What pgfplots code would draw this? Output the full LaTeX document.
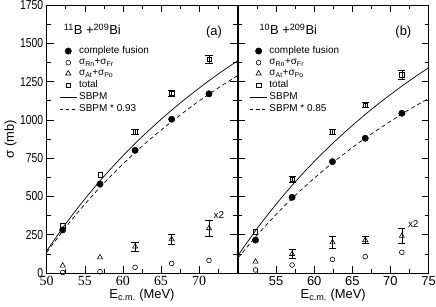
\documentclass[border=0pt]{standalone}
\usepackage{fontspec}
\setmainfont{Liberation Sans}
\newfontfamily\seriffont{Liberation Serif}
\usepackage{graphicx}
\usepackage{pgfplots}
\pgfplotsset{compat=1.18}

\pgfplotsset{
 panel/.style={
  scale only axis, width=190.5bp, height=268bp,
  xmin=50, xmax=75, ymin=0, ymax=1750,
  ytick={0,250,...,1750},
  minor xtick={52.5,57.5,...,72.5},
  minor ytick={125,375,...,1625},
  tick align=inside,
  major tick length=7bp, minor tick length=4bp,
  xtick pos=both, ytick pos=both,
  axis line style={line width=0.7pt},
  every tick/.style={black, line width=0.6pt},
  /pgf/number format/assume math mode=true,
  /pgf/number format/1000 sep={},
  tick label style={font=\fontsize{13}{15}\selectfont},
  xlabel={E\textsubscript{c.m.} (MeV)},
  xlabel style={font=\fontsize{13}{15}\selectfont, at={(axis description cs:0.5,0)}, anchor=center, yshift=-22bp},
  legend style={draw=none, fill=none, font=\fontsize{10}{11}\selectfont, anchor=north west, row sep=-0.4pt, cells={anchor=west}},
  legend cell align=left,
 },
 fus/.style={only marks, mark=*, mark size=3.2bp, black},
 rnfr/.style={only marks, mark=o, mark size=2.4bp, black, mark options={line width=0.6pt}},
 atpo/.style={only marks, mark=triangle, mark size=3bp, black, mark options={line width=0.6pt}},
 tot/.style={only marks, mark=square, mark size=2.2bp, black, mark options={line width=0.6pt}},
 eb/.style={/pgfplots/error bars/y dir=both, /pgfplots/error bars/y explicit,
   /pgfplots/error bars/error mark options={rotate=90, mark size=3.6bp, line width=0.6pt},
   /pgfplots/error bars/error bar style={line width=0.6pt}},
}

\begin{document}
\begin{tikzpicture}
% ---------- left panel ----------
\begin{axis}[panel, at={(46.7bp,34bp)}, anchor=south west,
  xtick={50,55,...,70},
  xticklabel={{\seriffont\fontsize{14}{16}\selectfont\pgfmathprintnumber{\tick}}},
  yticklabel={\scalebox{0.8}[1]{\pgfmathprintnumber{\tick}}},
  ylabel={σ (mb)},
  ylabel style={font=\fontsize{13}{15}\selectfont, at={(axis description cs:-0.19,0.5)}, anchor=center},
  legend style={at={(0.05,0.86)}},
]
\addlegendimage{fus}\addlegendentry{complete fusion}
\addlegendimage{rnfr}\addlegendentry{σ\textsubscript{Rn}+σ\textsubscript{Fr}}
\addlegendimage{atpo}\addlegendentry{σ\textsubscript{At}+σ\textsubscript{Po}}
\addlegendimage{tot}\addlegendentry{total}
\addlegendimage{black, line width=0.7pt}\addlegendentry{SBPM}
\addlegendimage{black, line width=0.7pt, dashed}\addlegendentry{SBPM * 0.93}

% SBPM
\addplot[black, line width=0.7pt, smooth, forget plot] coordinates {
(50,145) (52.5,322) (55,483) (57.5,630) (60,765) (62.5,889) (65,1003) (67.5,1109) (70,1207) (72.5,1299) (75,1384)};
\addplot[black, line width=0.7pt, dash pattern=on 4pt off 3pt, smooth, forget plot] coordinates {
(50,135) (52.5,299) (55,449) (57.5,586) (60,711) (62.5,827) (65,933) (67.5,1031) (70,1123) (72.5,1208) (75,1287)};
% complete fusion
\addplot[fus, forget plot] coordinates {(52.1,281) (57.0,581) (61.6,801) (66.4,1004) (71.3,1170)};
% Rn+Fr
\addplot[rnfr, forget plot] coordinates {(52.1,3) (57.0,8) (61.6,37) (66.4,63) (71.3,82)};
% At+Po (x2)
\addplot[atpo, forget plot] coordinates {(52.1,48) (57.0,102)};
\addplot[atpo, forget plot, eb] coordinates {(61.6,172) +- (0,28) (66.4,220) +- (0,30) (71.3,292) +- (0,55)};
% total
\addplot[tot, forget plot] coordinates {(52.1,307) (57.0,640)};
\addplot[tot, forget plot, eb] coordinates {(61.6,923) +- (0,18) (66.4,1173) +- (0,18) (71.3,1395) +- (0,28)};

\node[font=\fontsize{13}{15}\selectfont] at (axis cs:56.0,1593) {\textsuperscript{11}B +\textsuperscript{209}Bi};
\node[font=\fontsize{13}{15}\selectfont] at (axis cs:71.95,1574) {(a)};
\node[font=\fontsize{10}{12}\selectfont] at (axis cs:72.6,379) {x2};
\end{axis}

% ---------- right panel ----------
\begin{axis}[panel, at={(238bp,34bp)}, anchor=south west,
  xtick={55,60,...,75},
  yticklabels={},
  legend style={at={(0.045,0.86)}},
]
\addlegendimage{fus}\addlegendentry{complete fusion}
\addlegendimage{rnfr}\addlegendentry{σ\textsubscript{Rn}+σ\textsubscript{Fr}}
\addlegendimage{atpo}\addlegendentry{σ\textsubscript{At}+σ\textsubscript{Po}}
\addlegendimage{tot}\addlegendentry{total}
\addlegendimage{black, line width=0.7pt}\addlegendentry{SBPM}
\addlegendimage{black, line width=0.7pt, dashed}\addlegendentry{SBPM * 0.85}

\addplot[black, line width=0.7pt, smooth, forget plot] coordinates {
(50,115) (52.5,290) (55,449) (57.5,595) (60,728) (62.5,850) (65,963) (67.5,1068) (70,1165) (72.5,1256) (75,1340)};
\addplot[black, line width=0.7pt, dash pattern=on 4pt off 3pt, smooth, forget plot] coordinates {
(50,98) (52.5,247) (55,382) (57.5,506) (60,619) (62.5,723) (65,819) (67.5,908) (70,990) (72.5,1068) (75,1139)};
\addplot[fus, forget plot] coordinates {(52.3,215) (57.1,494) (62.4,727) (66.7,880) (71.5,1043)};
\addplot[rnfr, forget plot] coordinates {(52.3,20) (57.1,52) (62.4,89) (66.7,107) (71.5,135)};
\addplot[atpo, forget plot] coordinates {(52.3,74)};
\addplot[atpo, forget plot, eb] coordinates {(57.1,124) +- (0,30) (62.4,200) +- (0,38) (66.7,215) +- (0,22) (71.5,242) +- (0,50)};
\addplot[tot, forget plot] coordinates {(52.3,270)};
\addplot[tot, forget plot, eb] coordinates {(57.1,612) +- (0,18) (62.4,923) +- (0,18) (66.7,1097) +- (0,18) (71.5,1293) +- (0,30)};

\node[font=\fontsize{13}{15}\selectfont] at (axis cs:56.6,1593) {\textsuperscript{10}B +\textsuperscript{209}Bi};
\node[font=\fontsize{13}{15}\selectfont] at (axis cs:71.7,1574) {(b)};
\node[font=\fontsize{10}{12}\selectfont] at (axis cs:73.0,320) {x2};
\end{axis}
\pgfresetboundingbox
\path[use as bounding box] (0,0) rectangle (436bp,307bp);
\end{tikzpicture}
\end{document}
